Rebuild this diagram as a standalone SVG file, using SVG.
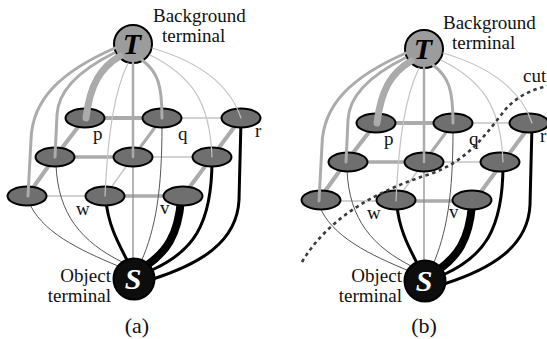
<svg xmlns="http://www.w3.org/2000/svg" width="547" height="339" viewBox="0 0 547 339">
  <defs>
    <style>
      .txt { font-family: "Liberation Serif", "Times New Roman", serif; font-size: 19px; fill: #111; }
      .cap { font-family: "Liberation Serif", "Times New Roman", serif; font-size: 22px; fill: #111; text-anchor: middle; }
      .term { font-family: "Liberation Serif", "Times New Roman", serif; font-size: 30px; font-weight: bold; font-style: italic; text-anchor: middle; }
      .node { fill: #6f6f6f; stroke: #000; stroke-width: 2; }
      .tnode { fill: #9c9c9c; stroke: #000; stroke-width: 2; }
      .snode { fill: #0d0d0d; stroke: #000; stroke-width: 2; }
      .e { fill: none; stroke-linecap: round; }
      .g { stroke: #ababab; }
      .gl { stroke: #c4c4c4; }
      .k { stroke: #000; }
      .dk { stroke: #555; }
      .cut { fill: none; stroke: #3a3a3a; stroke-width: 2.6; stroke-dasharray: 3.5 3.5; }
    </style>

    <!-- one graph: terminal T, nine pixel nodes on a 3x3 slanted grid, terminal S -->
    <g id="grid-links">
      <!-- horizontal n-links -->
      <line class="e g" x1="85" y1="118" x2="162" y2="118" stroke-width="4"/>
      <line class="e gl" x1="162" y1="118" x2="241" y2="118" stroke-width="1.5"/>
      <line class="e g" x1="55" y1="157" x2="133" y2="157" stroke-width="3.5"/>
      <line class="e gl" x1="133" y1="157" x2="212" y2="157" stroke-width="1.5"/>
      <line class="e gl" x1="27" y1="196" x2="105" y2="196" stroke-width="1.5"/>
      <line class="e g" x1="105" y1="196" x2="183" y2="196" stroke-width="3.5"/>
      <!-- depth n-links -->
      <line class="e g" x1="85" y1="118" x2="55" y2="157" stroke-width="4"/>
      <line class="e g" x1="55" y1="157" x2="27" y2="196" stroke-width="4"/>
      <line class="e g" x1="162" y1="118" x2="133" y2="157" stroke-width="3"/>
      <line class="e gl" x1="133" y1="157" x2="105" y2="196" stroke-width="1.3"/>
      <line class="e g" x1="241" y1="118" x2="212" y2="157" stroke-width="4"/>
      <line class="e g" x1="212" y1="157" x2="183" y2="196" stroke-width="4"/>
    </g>

    <g id="s-links">
      <path class="e dk" d="M28,200 C40,232 80,250 118,266" stroke-width="1"/>
      <path class="e dk" d="M56,165 C58,215 82,242 122,262" stroke-width="1"/>
      <path class="e k" d="M106,200 C108,226 120,246 128,262" stroke-width="3"/>
      <line class="e" x1="133" y1="157" x2="133" y2="262" stroke="#888" stroke-width="1.2"/>
      <path class="e dk" d="M162,125 C162,190 156,228 141,262" stroke-width="1"/>
      <path class="e k" d="M181,200 C178,236 166,252 146,266" stroke-width="8"/>
      <path class="e k" d="M212,160 C212,226 192,252 152,270" stroke-width="3"/>
      <path class="e k" d="M241,120 L239,200 C237,242 200,264 153,279" stroke-width="3"/>
    </g>

    <g id="t-links">
      <path class="e g" d="M115,48 C60,72 32,100 31,140 L28,196" stroke-width="3"/>
      <path class="e g" d="M114,53 C80,70 58,90 57,115 L55,157" stroke-width="3"/>
      <path class="e g" d="M120,56 C100,68 90,85 86,118" stroke-width="7"/>
      <line class="e g" x1="133" y1="63" x2="133" y2="157" stroke-width="2.5"/>
      <path class="e g" d="M142,60 C158,72 162,85 162,118" stroke-width="3"/>
      <path class="e gl" d="M128,63 C115,90 108,130 105,196" stroke-width="1.2"/>
      <path class="e gl" d="M150,55 C190,75 210,100 212,157" stroke-width="1.2"/>
      <path class="e gl" d="M152,48 C200,62 230,85 241,118" stroke-width="1.2"/>
    </g>
  </defs>

  <rect width="547" height="339" fill="#fff"/>

  <!-- left graph -->
  <g id="panel-a">
    <g id="a-links-under">
      <use href="#grid-links"/>
      <use href="#s-links"/>
    </g>
    <g id="a-T"><circle class="tnode" cx="133" cy="44" r="19"/><text class="term" x="132" y="54" fill="#000">T</text></g>
    <g id="a-S"><circle class="snode" cx="134" cy="279" r="20.5"/><text class="term" x="133" y="289" fill="#fff">S</text></g>
    <g id="a-p"><ellipse class="node" cx="85" cy="118" rx="19.5" ry="9.5"/></g>
    <g id="a-q"><ellipse class="node" cx="162" cy="118" rx="19.5" ry="9.5"/></g>
    <g id="a-r"><ellipse class="node" cx="241" cy="118" rx="19.5" ry="9.5"/></g>
    <g id="a-m1"><ellipse class="node" cx="55" cy="157" rx="19.5" ry="9.5"/></g>
    <g id="a-m2"><ellipse class="node" cx="133" cy="157" rx="19.5" ry="9.5"/></g>
    <g id="a-m3"><ellipse class="node" cx="212" cy="157" rx="19.5" ry="9.5"/></g>
    <g id="a-f1"><ellipse class="node" cx="27" cy="196" rx="19.5" ry="9.5"/></g>
    <g id="a-w"><ellipse class="node" cx="105" cy="196" rx="19.5" ry="9.5"/></g>
    <g id="a-v"><ellipse class="node" cx="183" cy="196" rx="19.5" ry="9.5"/></g>
    <g id="a-links-over"><use href="#t-links"/></g>
    <text class="txt" x="93" y="140">p</text>
    <text class="txt" x="178" y="140">q</text>
    <text class="txt" x="255" y="137">r</text>
    <text class="txt" x="76" y="215">w</text>
    <text class="txt" x="160" y="214">v</text>
  </g>
  <text class="txt" x="153" y="22">Background</text>
  <text class="txt" x="162" y="42">terminal</text>
  <text class="txt" x="111" y="282" text-anchor="end">Object</text>
  <text class="txt" x="111" y="302" text-anchor="end">terminal</text>
  <text class="cap" x="137" y="333">(a)</text>

  <!-- right graph with the cut -->
  <g id="panel-b" transform="translate(291,5)">
    <g id="b-links-under">
      <use href="#grid-links"/>
      <use href="#s-links"/>
    </g>
    <g id="b-T"><circle class="tnode" cx="133" cy="44" r="19"/><text class="term" x="132" y="54" fill="#000">T</text></g>
    <g id="b-S"><circle class="snode" cx="134" cy="276" r="20.5"/><text class="term" x="133" y="286" fill="#fff">S</text></g>
    <g id="b-p"><ellipse class="node" cx="85" cy="118" rx="19.5" ry="9.5"/></g>
    <g id="b-q"><ellipse class="node" cx="162" cy="118" rx="19.5" ry="9.5"/></g>
    <g id="b-r"><ellipse class="node" cx="238" cy="118" rx="19.5" ry="9.5"/></g>
    <g id="b-m1"><ellipse class="node" cx="57" cy="157" rx="19.5" ry="9.5"/></g>
    <g id="b-m2"><ellipse class="node" cx="133" cy="157" rx="19.5" ry="9.5"/></g>
    <g id="b-m3"><ellipse class="node" cx="209" cy="157" rx="19.5" ry="9.5"/></g>
    <g id="b-f1"><ellipse class="node" cx="30" cy="195" rx="19.5" ry="9.5"/></g>
    <g id="b-w"><ellipse class="node" cx="105" cy="195" rx="19.5" ry="9.5"/></g>
    <g id="b-v"><ellipse class="node" cx="181" cy="195" rx="19.5" ry="9.5"/></g>
    <g id="b-links-over"><use href="#t-links"/></g>
    <text class="txt" x="93" y="140">p</text>
    <text class="txt" x="178" y="140">q</text>
    <text class="txt" x="249" y="137">r</text>
    <text class="txt" x="76" y="214">w</text>
    <text class="txt" x="158" y="213">v</text>
  </g>
  <path id="cut" class="cut" d="M302,262 C330,215 380,190 430,174 C468,161 486,134 505,110 C515,98 530,90 547,86"/>
  <text class="txt" x="523" y="82">cut</text>
  <text class="txt" x="443" y="29">Background</text>
  <text class="txt" x="452" y="49">terminal</text>
  <text class="txt" x="402" y="282" text-anchor="end">Object</text>
  <text class="txt" x="402" y="302" text-anchor="end">terminal</text>
  <text class="cap" x="424" y="333">(b)</text>
</svg>
